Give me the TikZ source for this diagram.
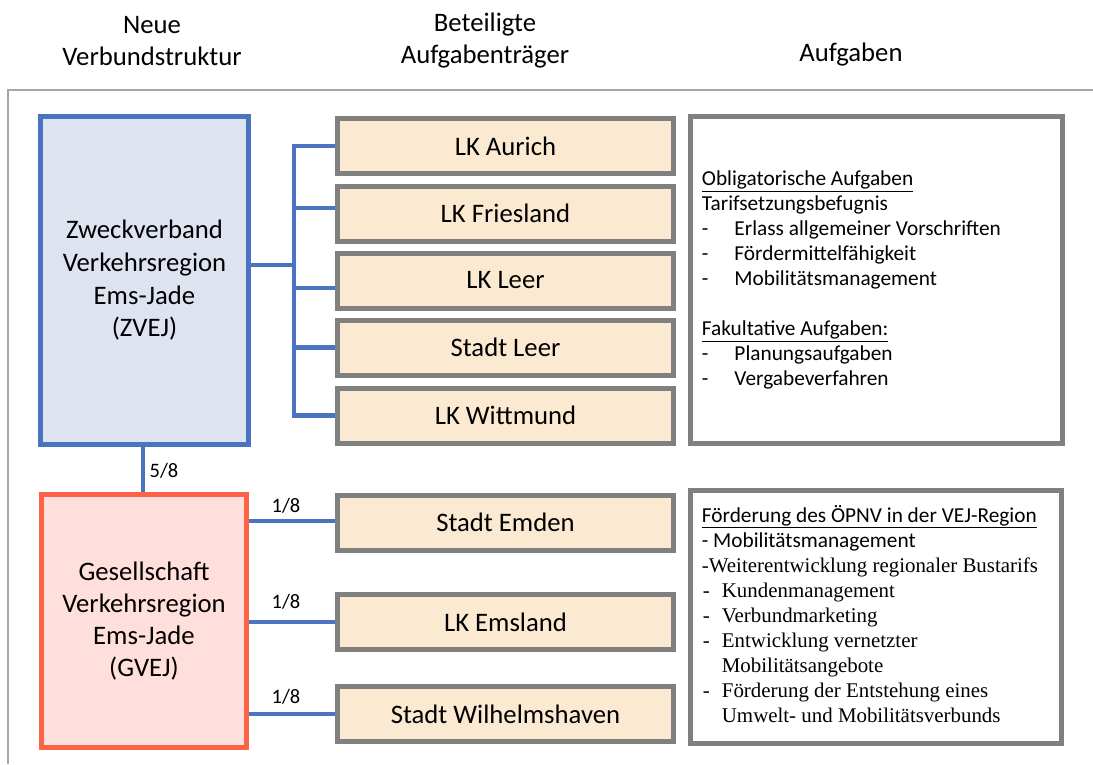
\documentclass[tikz,border=0pt]{standalone}
\usepackage{fontspec}
\setmainfont{Carlito}
\newfontfamily\timesfont{Liberation Serif}
\usetikzlibrary{calc}
\definecolor{zblue}{HTML}{4A74C0}
\definecolor{zbluefill}{HTML}{DEE3F0}
\definecolor{gred}{HTML}{FF6347}
\definecolor{gredfill}{HTML}{FFDFDB}
\definecolor{beige}{HTML}{FBEAD1}
\definecolor{boxgray}{HTML}{808080}
\definecolor{framegray}{HTML}{A6A6A6}
\begin{document}
\begin{tikzpicture}[x=1pt,y=-1pt,
  bigfont/.style={font=\fontsize{26.7}{32.7}\selectfont},
  header/.style={bigfont, align=center, inner sep=0pt},
  mainbox/.style={draw, line width=5pt, bigfont, align=center, inner sep=0pt},
  member/.style={draw=boxgray, fill=beige, line width=5pt, minimum width=336pt, minimum height=55pt, inner sep=0pt, bigfont},
  taskbox/.style={draw=boxgray, fill=white, line width=5pt, inner sep=0pt},
  conn/.style={draw=zblue, line width=4.6pt},
  frac/.style={font=\fontsize{20.5}{24}\selectfont, inner sep=0pt},
  txt/.style={anchor=base west, inner sep=0pt, font=\fontsize{21.3}{25}\selectfont},
  txts/.style={anchor=base west, inner sep=0pt, font=\fontsize{20.9}{25}\timesfont}
]
\useasboundingbox (0,0) rectangle (1093,764);
\fill[white] (0,0) rectangle (1093,764);
% frame
\draw[framegray, line width=2pt] (1093,90) -- (8,90) -- (8,764);
% headers
\node[header] (h1) at (152,41) {Neue\\Verbundstruktur};
\node[header] (h2) at (485,40.5) {Beteiligte\\Aufgabenträger};
\node[header, anchor=base] (h3) at (851,61) {Aufgaben};
% main boxes
\node[mainbox, draw=zblue, fill=zbluefill, minimum width=208pt, minimum height=328pt] (zvej) at (144.5,280.5)
  {Zweckverband\\Verkehrsregion\\Ems-Jade\\(ZVEJ)};
\node[mainbox, draw=gred, fill=gredfill, minimum width=205pt, minimum height=253pt, font=\fontsize{26.7}{32}\selectfont] (gvej) at (144,621)
  {Gesellschaft\\Verkehrsregion\\Ems-Jade\\(GVEJ)};
% member boxes
\node[member] (aurich) at (505.5,146) {LK Aurich};
\node[member] (friesland) at (505.5,213.5) {LK Friesland};
\node[member] (lkleer) at (505.5,280.5) {LK Leer};
\node[member] (stleer) at (505.5,347.5) {Stadt Leer};
\node[member] (wittmund) at (505.5,415.5) {LK Wittmund};
\node[member] (emden) at (505.5,522.5) {Stadt Emden};
\node[member] (emsland) at (505.5,622) {LK Emsland};
\node[member] (whaven) at (505.5,714) {Stadt Wilhelmshaven};
% task boxes
\node[taskbox, minimum width=372pt, minimum height=327pt] (task1) at (876.5,280) {};
\node[taskbox, minimum width=371pt, minimum height=253pt] (task2) at (876,617) {};
% connectors upper group
\coordinate (bus) at (294,265);
\coordinate (frin) at ([yshift=5.5pt]friesland.west);
\coordinate (lkin) at ([yshift=-7.5pt]lkleer.west);
\coordinate (emin) at ([yshift=1.5pt]emden.west);
\coordinate (zgtop) at ([xshift=-1.5pt]zvej.south);
\draw[conn] (zvej.east |- bus) -- (bus);
\draw[conn, line cap=rect] (bus |- aurich.west) -- (bus |- wittmund.west);
\draw[conn] (bus |- aurich.west) -- (aurich.west);
\draw[conn] (bus |- frin) -- (frin);
\draw[conn] (bus |- lkin) -- (lkin);
\draw[conn] (bus |- stleer.west) -- (stleer.west);
\draw[conn] (bus |- wittmund.west) -- (wittmund.west);
% connector zvej - gvej
\draw[conn] (zgtop) -- (zgtop |- gvej.north);
\node[frac] (l58) at (164,471) {5/8};
% connectors lower group
\draw[conn] (gvej.east |- emin) -- (emin);
\draw[conn] (gvej.east |- emsland.west) -- (emsland.west);
\draw[conn] (gvej.east |- whaven.west) -- (whaven.west);
\node[frac] (l18a) at (286,506) {1/8};
\node[frac] (l18b) at (286,601.5) {1/8};
\node[frac] (l18c) at (286,697) {1/8};
% task texts upper
\node[txt] (a1) at (701.7,185.7) {\underline{Obligatorische Aufgaben}};
\node[txt] (a2) at (701.7,210.7) {Tarifsetzungsbefugnis};
\node[txt] (a3) at (701.7,235.7) {\makebox[32.6pt][l]{-}Erlass allgemeiner Vorschriften};
\node[txt] (a4) at (701.7,260.7) {\makebox[32.6pt][l]{-}Fördermittelfähigkeit};
\node[txt] (a5) at (701.7,285.7) {\makebox[32.6pt][l]{-}Mobilitätsmanagement};
\node[txt] (a6) at (701.7,335.7) {\underline{Fakultative Aufgaben:}};
\node[txt] (a7) at (701.7,360.7) {\makebox[32.6pt][l]{-}Planungsaufgaben};
\node[txt] (a8) at (701.7,385.7) {\makebox[32.6pt][l]{-}Vergabeverfahren};
% task texts lower
\node[txt] (b1) at (701.7,522.3) {\underline{Förderung des ÖPNV in der VEJ-Region}};
\node[txt] (b2) at (701.7,547.3) {- Mobilitätsmanagement};
\node[txts] (b3) at (701.7,572.3) {-Weiterentwicklung regionaler Bustarifs};
\node[txts] (b4) at (702.7,597.3) {\makebox[19pt][l]{-}Kundenmanagement};
\node[txts] (b5) at (702.7,622.3) {\makebox[19pt][l]{-}Verbundmarketing};
\node[txts] (b6) at (702.7,647.3) {\makebox[19pt][l]{-}Entwicklung vernetzter};
\node[txts] (b7) at (721.7,672.3) {Mobilitätsangebote};
\node[txts] (b8) at (702.7,697.3) {\makebox[19pt][l]{-}Förderung der Entstehung eines};
\node[txts] (b9) at (721.7,722.3) {Umwelt- und Mobilitätsverbunds};
\end{tikzpicture}
\end{document}
